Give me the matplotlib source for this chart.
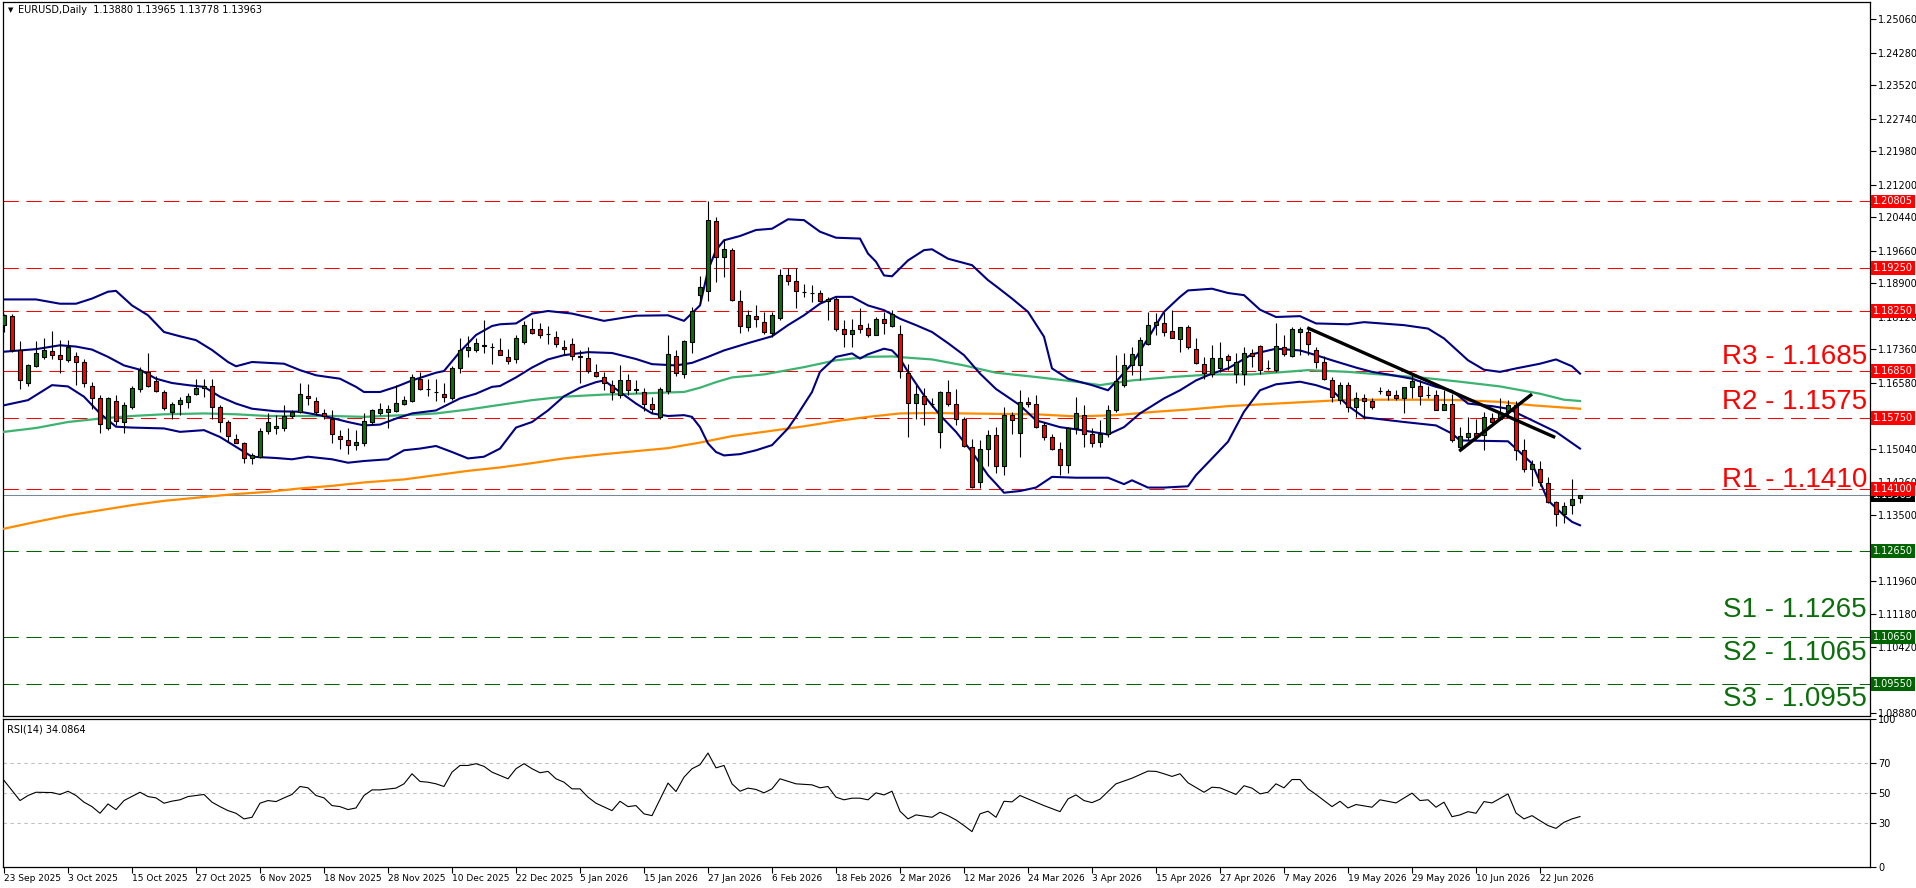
import numpy as np
import matplotlib.pyplot as plt
from matplotlib.transforms import blended_transform_factory

plt.rcParams['font.family'] = ['DejaVu Sans']
plt.rcParams['lines.scale_dashes'] = False

# ---------------- data ----------------
opens = [
    1.1792, 1.1813, 1.1735, 1.1656, 1.1697, 1.1718, 1.1731, 1.1723, 1.1710, 1.1721,
    1.1705, 1.1651, 1.1623, 1.1553, 1.1614, 1.1565, 1.1600, 1.1642, 1.1682, 1.1661,
    1.1637, 1.1590, 1.1607, 1.1613, 1.1632, 1.1645, 1.1651, 1.1600, 1.1566, 1.1527,
    1.1516, 1.1481, 1.1485, 1.1546, 1.1553, 1.1553, 1.1581, 1.1590, 1.1627, 1.1616,
    1.1587, 1.1574, 1.1534, 1.1525, 1.1513, 1.1517, 1.1567, 1.1587, 1.1590, 1.1592,
    1.1607, 1.1615, 1.1666, 1.1643, 1.1637, 1.1632, 1.1621, 1.1693, 1.1735, 1.1735,
    1.1745, 1.1741, 1.1735, 1.1718, 1.1714, 1.1753, 1.1784, 1.1784, 1.1772, 1.1765,
    1.1741, 1.1749, 1.1719, 1.1716, 1.1683, 1.1671, 1.1653, 1.1628, 1.1663, 1.1642,
    1.1637, 1.1607, 1.1578, 1.1638, 1.1721, 1.1679, 1.1753, 1.1863, 1.1872, 1.2034,
    1.1951, 1.1968, 1.1849, 1.1788, 1.1813, 1.1800, 1.1774, 1.1809, 1.1910, 1.1894,
    1.1869, 1.1868, 1.1866, 1.1849, 1.1854, 1.1784, 1.1772, 1.1792, 1.1786, 1.1770,
    1.1807, 1.1790, 1.1771, 1.1681, 1.1611, 1.1627, 1.1607, 1.1543, 1.1635, 1.1609,
    1.1572, 1.1508, 1.1425, 1.1504, 1.1535, 1.1463, 1.1582, 1.1541, 1.1613, 1.1607,
    1.1558, 1.1530, 1.1502, 1.1465, 1.1551, 1.1583, 1.1537, 1.1519, 1.1537, 1.1593,
    1.1652, 1.1698, 1.1700, 1.1749, 1.1793, 1.1798, 1.1778, 1.1760, 1.1788, 1.1737,
    1.1702, 1.1677, 1.1691, 1.1720, 1.1677, 1.1677, 1.1727, 1.1743, 1.1691, 1.1687,
    1.1741, 1.1719, 1.1775, 1.1776, 1.1735, 1.1706, 1.1663, 1.1618, 1.1653, 1.1601,
    1.1621, 1.1615, 1.1639, 1.1639, 1.1628, 1.1621, 1.1648, 1.1651, 1.1630, 1.1630,
    1.1595, 1.1609, 1.1508, 1.1531, 1.1541, 1.1535, 1.1575, 1.1574, 1.1592, 1.1605,
    1.1500, 1.1457, 1.1457, 1.1424, 1.1380, 1.1352, 1.1373, 1.13880]
highs = [
    1.1819, 1.1818, 1.1755, 1.1702, 1.1755, 1.1761, 1.1778, 1.1758, 1.1758, 1.1730,
    1.1712, 1.1660, 1.1629, 1.1625, 1.1629, 1.1612, 1.1650, 1.1695, 1.1728, 1.1673,
    1.1640, 1.1612, 1.1625, 1.1633, 1.1667, 1.1667, 1.1667, 1.1605, 1.1570, 1.1539,
    1.1520, 1.1493, 1.1551, 1.1586, 1.1582, 1.1605, 1.1595, 1.1656, 1.1654, 1.1625,
    1.1596, 1.1595, 1.1547, 1.1551, 1.1547, 1.1586, 1.1597, 1.1611, 1.1605, 1.1652,
    1.1626, 1.1677, 1.1683, 1.1667, 1.1666, 1.1656, 1.1697, 1.1761, 1.1766, 1.1763,
    1.1803, 1.1750, 1.1761, 1.1737, 1.1768, 1.1801, 1.1809, 1.1796, 1.1790, 1.1779,
    1.1758, 1.1763, 1.1733, 1.1741, 1.1702, 1.1683, 1.1663, 1.1698, 1.1677, 1.1663,
    1.1646, 1.1625, 1.1648, 1.1768, 1.1733, 1.1757, 1.1835, 1.1906, 1.2082, 1.2045,
    1.1994, 1.1973, 1.1873, 1.1828, 1.1838, 1.1823, 1.1823, 1.1924, 1.1926, 1.1926,
    1.1889, 1.1885, 1.1873, 1.1858, 1.1858, 1.1805, 1.1807, 1.1833, 1.1796, 1.1811,
    1.1823, 1.1827, 1.1792, 1.1702, 1.1652, 1.1646, 1.1621, 1.1638, 1.1665, 1.1644,
    1.1578, 1.1527, 1.1523, 1.1547, 1.1554, 1.1601, 1.1590, 1.1640, 1.1624, 1.1628,
    1.1565, 1.1539, 1.1520, 1.1554, 1.1624, 1.1605, 1.1551, 1.1570, 1.1605, 1.1722,
    1.1726, 1.1741, 1.1765, 1.1823, 1.1821, 1.1823, 1.1827, 1.1788, 1.1792, 1.1761,
    1.1718, 1.1745, 1.1753, 1.1724, 1.1726, 1.1741, 1.1737, 1.1745, 1.1710, 1.1796,
    1.1768, 1.1788, 1.1788, 1.1788, 1.1741, 1.1719, 1.1671, 1.1659, 1.1659, 1.1636,
    1.1632, 1.1621, 1.1648, 1.1644, 1.1640, 1.1648, 1.1675, 1.1663, 1.1650, 1.1640,
    1.1640, 1.1632, 1.1554, 1.1578, 1.1574, 1.1590, 1.1586, 1.1621, 1.1617, 1.1615,
    1.1527, 1.1478, 1.1474, 1.1438, 1.1382, 1.1380, 1.1434, 1.13965]
lows = [
    1.1776, 1.1730, 1.1644, 1.1649, 1.1695, 1.1714, 1.1714, 1.1681, 1.1706, 1.1652,
    1.1648, 1.1597, 1.1541, 1.1547, 1.1560, 1.1541, 1.1597, 1.1637, 1.1648, 1.1637,
    1.1595, 1.1574, 1.1582, 1.1599, 1.1629, 1.1625, 1.1574, 1.1542, 1.1520, 1.1516,
    1.1471, 1.1467, 1.1483, 1.1539, 1.1539, 1.1545, 1.1575, 1.1586, 1.1605, 1.1582,
    1.1574, 1.1516, 1.1502, 1.1491, 1.1500, 1.1510, 1.1560, 1.1582, 1.1552, 1.1590,
    1.1605, 1.1612, 1.1640, 1.1627, 1.1615, 1.1613, 1.1618, 1.1681, 1.1718, 1.1730,
    1.1726, 1.1702, 1.1722, 1.1702, 1.1704, 1.1749, 1.1772, 1.1761, 1.1749, 1.1741,
    1.1722, 1.1710, 1.1658, 1.1680, 1.1671, 1.1640, 1.1617, 1.1621, 1.1628, 1.1634,
    1.1592, 1.1586, 1.1574, 1.1632, 1.1674, 1.1669, 1.1727, 1.1841, 1.1849, 1.1893,
    1.1905, 1.1849, 1.1774, 1.1778, 1.1788, 1.1772, 1.1765, 1.1805, 1.1885, 1.1831,
    1.1858, 1.1846, 1.1846, 1.1803, 1.1779, 1.1740, 1.1741, 1.1774, 1.1765, 1.1768,
    1.1772, 1.1788, 1.1669, 1.1530, 1.1574, 1.1558, 1.1601, 1.1505, 1.1603, 1.1558,
    1.1508, 1.1411, 1.1411, 1.1463, 1.1447, 1.1442, 1.1539, 1.1484, 1.1601, 1.1551,
    1.1523, 1.1500, 1.1442, 1.1446, 1.1539, 1.1508, 1.1508, 1.1508, 1.1530, 1.1590,
    1.1648, 1.1675, 1.1663, 1.1745, 1.1768, 1.1766, 1.1761, 1.1730, 1.1737, 1.1702,
    1.1667, 1.1671, 1.1683, 1.1687, 1.1656, 1.1652, 1.1694, 1.1679, 1.1687, 1.1683,
    1.1719, 1.1718, 1.1722, 1.1722, 1.1691, 1.1663, 1.1613, 1.1609, 1.1590, 1.1578,
    1.1574, 1.1597, 1.1632, 1.1617, 1.1617, 1.1586, 1.1621, 1.1605, 1.1621, 1.1594,
    1.1594, 1.1520, 1.1504, 1.1523, 1.1527, 1.1500, 1.1562, 1.1570, 1.1578, 1.1477,
    1.1449, 1.1416, 1.1416, 1.1377, 1.1323, 1.1330, 1.1352, 1.13778]
closes = [
    1.1815, 1.1735, 1.1665, 1.1700, 1.1726, 1.1734, 1.1723, 1.1714, 1.1740, 1.1706,
    1.1656, 1.1623, 1.1562, 1.1621, 1.1568, 1.1605, 1.1646, 1.1688, 1.1651, 1.1639,
    1.1598, 1.1609, 1.1617, 1.1627, 1.1645, 1.1649, 1.1600, 1.1566, 1.1534, 1.1518,
    1.1481, 1.1490, 1.1546, 1.1565, 1.1556, 1.1581, 1.1590, 1.1632, 1.1621, 1.1590,
    1.1579, 1.1537, 1.1527, 1.1513, 1.1520, 1.1569, 1.1593, 1.1596, 1.1597, 1.1610,
    1.1618, 1.1670, 1.1644, 1.1642, 1.1636, 1.1625, 1.1693, 1.1735, 1.1741, 1.1751,
    1.1744, 1.1741, 1.1722, 1.1708, 1.1761, 1.1793, 1.1774, 1.1768, 1.1771, 1.1747,
    1.1736, 1.1719, 1.1718, 1.1685, 1.1674, 1.1658, 1.1635, 1.1665, 1.1640, 1.1641,
    1.1607, 1.1597, 1.1644, 1.1724, 1.1681, 1.1754, 1.1826, 1.1880, 1.2037, 1.1951,
    1.1969, 1.1850, 1.1789, 1.1815, 1.1807, 1.1775, 1.1815, 1.1910, 1.1894, 1.1871,
    1.1870, 1.1867, 1.1849, 1.1852, 1.1782, 1.1772, 1.1780, 1.1784, 1.1770, 1.1807,
    1.1796, 1.1819, 1.1684, 1.1611, 1.1632, 1.1607, 1.1608, 1.1635, 1.1607, 1.1572,
    1.1509, 1.1414, 1.1504, 1.1535, 1.1463, 1.1582, 1.1570, 1.1613, 1.1607, 1.1555,
    1.1530, 1.1504, 1.1465, 1.1551, 1.1588, 1.1537, 1.1516, 1.1539, 1.1593, 1.1661,
    1.1698, 1.1724, 1.1757, 1.1793, 1.1799, 1.1776, 1.1763, 1.1788, 1.1740, 1.1704,
    1.1680, 1.1716, 1.1716, 1.1710, 1.1706, 1.1727, 1.1719, 1.1687, 1.1691, 1.1743,
    1.1724, 1.1784, 1.1784, 1.1747, 1.1706, 1.1666, 1.1624, 1.1653, 1.1601, 1.1621,
    1.1615, 1.1601, 1.1639, 1.1628, 1.1623, 1.1648, 1.1661, 1.1627, 1.1628, 1.1595,
    1.1609, 1.1523, 1.1533, 1.1541, 1.1533, 1.1578, 1.1566, 1.1587, 1.1605, 1.1500,
    1.1457, 1.1469, 1.1426, 1.1380, 1.1352, 1.1369, 1.1387, 1.13963]

# Bollinger bands (20, 2) sampled at bar indices
bb_upper_idx = [0, 4, 7, 9, 11, 13, 14, 16, 18, 20, 22, 24, 26, 28, 29, 31, 35, 37, 39, 42,
                44, 45, 47, 49, 51, 54, 55, 57, 59, 61, 62, 64, 66, 68, 71, 75, 79, 83, 85, 87,
                88, 89, 90, 92, 94, 96, 98, 100, 102, 104, 107, 108, 109, 110, 111, 113, 115, 116, 118, 121,
                123, 124, 126, 128, 130, 131, 133, 136, 138, 139, 141, 143, 145, 147, 148, 151, 153, 155, 157, 159,
                162, 164, 168, 170, 175, 178, 180, 183, 185, 187, 189, 192, 194, 196, 197]
bb_upper = [1.1852, 1.1852, 1.1842, 1.1842, 1.1854, 1.1870, 1.1872, 1.1838, 1.1815, 1.1776,
            1.1766, 1.1757, 1.1734, 1.1706, 1.1696, 1.1706, 1.1702, 1.1687, 1.1675, 1.1667,
            1.1648, 1.1636, 1.1636, 1.1648, 1.1663, 1.1681, 1.1685, 1.1730, 1.1769, 1.1790,
            1.1794, 1.1796, 1.1819, 1.1825, 1.1819, 1.1802, 1.1814, 1.1815, 1.1802, 1.1838,
            1.1920, 1.1967, 1.1990, 1.2000, 1.2014, 1.2017, 1.2039, 1.2037, 1.2010, 1.1996,
            1.1994, 1.1959, 1.1940, 1.1908, 1.1906, 1.1943, 1.1967, 1.1969, 1.1947, 1.1932,
            1.1897, 1.1883, 1.1854, 1.1823, 1.1765, 1.1691, 1.1667, 1.1652, 1.1640, 1.1660,
            1.1702, 1.1761, 1.1823, 1.1858, 1.1873, 1.1877, 1.1867, 1.1862, 1.1828, 1.1811,
            1.1813, 1.1796, 1.1794, 1.1799, 1.1792, 1.1784, 1.1761, 1.1710, 1.1688, 1.1683,
            1.1691, 1.1702, 1.1712, 1.1696, 1.1679]
bb_mid_idx = [0, 4, 7, 9, 11, 13, 15, 17, 19, 21, 23, 25, 27, 29, 31, 34, 37, 40, 43, 45,
              47, 49, 51, 54, 57, 59, 61, 62, 64, 66, 68, 70, 73, 76, 79, 81, 84, 86, 88, 90,
              93, 96, 98, 100, 102, 104, 106, 108, 110, 112, 114, 116, 118, 120, 122, 124, 127, 129, 132, 134,
              136, 138, 140, 142, 145, 147, 149, 151, 153, 156, 159, 162, 164, 166, 169, 171, 173, 176, 179, 181,
              183, 186, 188, 191, 194, 197]
bb_mid = [1.1730, 1.1736, 1.1745, 1.1742, 1.1735, 1.1718, 1.1698, 1.1688, 1.1667, 1.1657,
          1.1652, 1.1648, 1.1625, 1.1609, 1.1597, 1.1591, 1.1590, 1.1580, 1.1566, 1.1558,
          1.1560, 1.1574, 1.1586, 1.1593, 1.1621, 1.1632, 1.1648, 1.1650, 1.1670, 1.1693,
          1.1712, 1.1722, 1.1729, 1.1727, 1.1713, 1.1701, 1.1698, 1.1704, 1.1718, 1.1733,
          1.1750, 1.1766, 1.1792, 1.1815, 1.1842, 1.1858, 1.1858, 1.1838, 1.1827, 1.1807,
          1.1792, 1.1776, 1.1750, 1.1722, 1.1679, 1.1643, 1.1605, 1.1570, 1.1554, 1.1549,
          1.1543, 1.1537, 1.1554, 1.1586, 1.1621, 1.1640, 1.1663, 1.1679, 1.1691, 1.1724,
          1.1737, 1.1733, 1.1722, 1.1710, 1.1693, 1.1683, 1.1677, 1.1667, 1.1648, 1.1639,
          1.1609, 1.1603, 1.1597, 1.1570, 1.1543, 1.1504]
bb_lower_idx = [0, 3, 6, 8, 10, 12, 14, 16, 20, 22, 25, 27, 29, 31, 34, 36, 38, 41, 43, 45,
                48, 50, 52, 54, 56, 58, 60, 62, 64, 66, 68, 70, 72, 74, 75, 77, 79, 81, 83, 85,
                86, 87, 88, 89, 90, 92, 94, 96, 98, 99, 101, 102, 104, 106, 107, 108, 110, 111, 112, 113,
                115, 117, 119, 121, 123, 124, 125, 127, 129, 131, 134, 138, 140, 141, 143, 145, 148, 149, 151, 153,
                155, 157, 159, 162, 164, 166, 168, 170, 175, 179, 181, 182, 188, 189, 191, 192, 193, 195, 196, 197]
bb_lower = [1.1605, 1.1617, 1.1652, 1.1649, 1.1625, 1.1586, 1.1555, 1.1553, 1.1551, 1.1543,
            1.1547, 1.1531, 1.1508, 1.1485, 1.1482, 1.1479, 1.1485, 1.1479, 1.1471, 1.1475,
            1.1479, 1.1500, 1.1504, 1.1510, 1.1496, 1.1481, 1.1485, 1.1504, 1.1553, 1.1566,
            1.1593, 1.1626, 1.1646, 1.1659, 1.1663, 1.1636, 1.1609, 1.1586, 1.1580, 1.1582,
            1.1578, 1.1554, 1.1516, 1.1496, 1.1488, 1.1491, 1.1500, 1.1512, 1.1551, 1.1578,
            1.1636, 1.1683, 1.1718, 1.1726, 1.1714, 1.1724, 1.1737, 1.1733, 1.1714, 1.1683,
            1.1628, 1.1582, 1.1543, 1.1496, 1.1442, 1.1422, 1.1401, 1.1405, 1.1413, 1.1438,
            1.1436, 1.1436, 1.1421, 1.1430, 1.1413, 1.1413, 1.1416, 1.1442, 1.1481, 1.1520,
            1.1590, 1.1640, 1.1654, 1.1660, 1.1652, 1.1640, 1.1604, 1.1577, 1.1566, 1.1558,
            1.1539, 1.1523, 1.1521, 1.1504, 1.1469, 1.1426, 1.1383, 1.1348, 1.1333, 1.1325]

# moving averages (green = shorter, orange = longer)
ma_green_idx = [0, 4, 8, 12, 16, 20, 25, 29, 33, 37, 41, 45, 50, 54, 58, 62, 66, 70, 75, 79,
                83, 85, 87, 89, 91, 95, 100, 104, 108, 111, 113, 116, 120, 124, 129, 134, 137, 141, 146, 151,
                156, 163, 168, 172, 177, 182, 187, 192, 195, 197]
ma_green = [1.1543, 1.1552, 1.1566, 1.1574, 1.1580, 1.1584, 1.1586, 1.1584, 1.1580, 1.1580,
            1.1580, 1.1578, 1.1582, 1.1586, 1.1595, 1.1606, 1.1617, 1.1625, 1.1630, 1.1632,
            1.1635, 1.1636, 1.1646, 1.1659, 1.1670, 1.1677, 1.1694, 1.1710, 1.1718, 1.1719,
            1.1716, 1.1712, 1.1698, 1.1681, 1.1671, 1.1660, 1.1652, 1.1663, 1.1671, 1.1677,
            1.1677, 1.1687, 1.1683, 1.1677, 1.1670, 1.1660, 1.1649, 1.1632, 1.1618, 1.1615]
ma_orange_idx = [0, 4, 8, 12, 16, 20, 25, 29, 33, 37, 41, 45, 50, 54, 58, 62, 66, 70, 75, 79,
                 83, 87, 91, 95, 100, 104, 108, 112, 116, 120, 124, 129, 134, 139, 144, 148, 153, 158, 163, 167,
                 172, 177, 182, 187, 191, 197]
ma_orange = [1.1317, 1.1333, 1.1348, 1.1360, 1.1372, 1.1382, 1.1391, 1.1398, 1.1403, 1.1411,
             1.1417, 1.1425, 1.1432, 1.1442, 1.1452, 1.1460, 1.1470, 1.1481, 1.1491, 1.1498,
             1.1505, 1.1518, 1.1533, 1.1543, 1.1556, 1.1568, 1.1578, 1.1586, 1.1587, 1.1586,
             1.1585, 1.1584, 1.1579, 1.1582, 1.1590, 1.1595, 1.1603, 1.1608, 1.1613, 1.1617,
             1.1618, 1.1618, 1.1617, 1.1613, 1.1605, 1.1597]

# hand-drawn trend lines: (bar index, price) end points
trend_down = [(162.9, 1.1786), (193.9, 1.1530)]
trend_up = [(181.9, 1.1498), (191.0, 1.1631)]

# RSI(14) sampled at bar indices
rsi_idx = [0, 2, 3, 4, 6, 7, 8, 9, 10, 11, 12, 13, 14, 15, 17, 18, 19, 20, 21, 22,
           23, 25, 26, 27, 28, 29, 30, 31, 32, 33, 34, 35, 36, 37, 38, 39, 40, 41, 42, 43,
           44, 45, 46, 47, 49, 50, 51, 52, 53, 54, 55, 56, 57, 58, 59, 60, 61, 63, 64, 65,
           66, 67, 68, 69, 70, 71, 72, 73, 74, 76, 77, 78, 79, 80, 81, 83, 84, 85, 86, 87,
           88, 89, 90, 91, 92, 93, 94, 95, 96, 97, 99, 101, 102, 103, 104, 105, 106, 107, 108, 109,
           110, 111, 112, 113, 114, 116, 117, 118, 119, 120, 121, 122, 123, 124, 125, 126, 127, 128, 130, 132,
           133, 134, 135, 136, 137, 139, 141, 143, 144, 145, 146, 147, 148, 150, 151, 152, 154, 155, 156, 157,
           158, 159, 160, 161, 162, 163, 164, 166, 167, 168, 169, 171, 172, 174, 176, 177, 178, 179, 180, 181,
           182, 183, 184, 185, 186, 188, 189, 190, 191, 192, 193, 194, 195, 196, 197]
rsi_val = [58.5, 44.9, 48.3, 50.5, 50.3, 49.0, 51.2, 48.3, 43.8, 40.8, 36.3, 42.6, 38.8, 44.9, 50.5, 47.6, 46.7, 43.1, 44.5, 45.4,
           47.6, 49.0, 43.8, 40.8, 38.1, 36.3, 32.5, 33.6, 43.1, 44.9, 44.2, 46.7, 49.0, 54.4, 53.5, 48.3, 46.7, 41.5, 40.8, 38.8,
           39.9, 48.3, 52.1, 52.1, 53.3, 56.2, 63.0, 57.8, 57.3, 56.2, 54.4, 64.1, 68.6, 68.6, 69.8, 68.0, 64.1, 59.6, 66.4, 69.8,
           66.4, 63.7, 64.6, 59.6, 57.3, 52.8, 52.8, 47.2, 43.1, 38.1, 44.4, 40.8, 41.5, 35.9, 34.7, 56.7, 51.0, 60.7, 66.4, 69.1,
           77.0, 67.0, 68.6, 56.2, 51.2, 53.3, 52.4, 50.1, 52.8, 59.6, 56.2, 55.5, 53.5, 54.4, 47.2, 45.4, 46.5, 46.5, 45.4, 50.1,
           48.7, 51.2, 37.7, 32.5, 35.2, 33.6, 37.0, 34.7, 31.8, 28.0, 23.9, 35.9, 37.7, 33.6, 44.4, 44.0, 48.3, 46.0, 41.5, 37.4,
           46.0, 48.7, 44.9, 43.5, 45.8, 56.2, 60.0, 64.8, 64.6, 63.0, 61.2, 63.0, 56.9, 50.5, 53.9, 53.5, 49.0, 54.9, 53.3, 49.4,
           50.5, 56.2, 53.5, 59.1, 59.1, 52.8, 49.0, 40.8, 44.4, 39.9, 42.2, 40.4, 45.4, 43.3, 49.9, 44.9, 45.4, 40.4, 43.8, 34.0,
           35.2, 37.4, 36.3, 44.2, 43.3, 49.4, 36.5, 32.5, 34.7, 31.3, 28.0, 26.1, 30.2, 32.5, 34.0864]

res_levels = [1.20805, 1.19250, 1.18250, 1.16850, 1.15750, 1.14100]
sup_levels = [1.12650, 1.10650, 1.09550]
last_price = 1.13963

res_names = ['R3 - 1.1685', 'R2 - 1.1575', 'R1 - 1.1410']
res_label_levels = [1.1685, 1.1575, 1.1410]
sup_names = ['S1 - 1.1265', 'S2 - 1.1065', 'S3 - 1.0955']
sup_label_levels = [1.1265, 1.1065, 1.0955]

# price scale labels (those fully covered by the level tags are left out)
price_ticks = [1.25060, 1.24280, 1.23520, 1.22740, 1.21980, 1.21200, 1.20440, 1.19660, 1.18900, 1.18120,
               1.17360, 1.16580, 1.15040, 1.14260, 1.13500, 1.11960, 1.11180, 1.10420, 1.08880]
date_labels = ['23 Sep 2025', '3 Oct 2025', '15 Oct 2025', '27 Oct 2025', '6 Nov 2025', '18 Nov 2025',
               '28 Nov 2025', '10 Dec 2025', '22 Dec 2025', '5 Jan 2026', '15 Jan 2026', '27 Jan 2026',
               '6 Feb 2026', '18 Feb 2026', '2 Mar 2026', '12 Mar 2026', '24 Mar 2026', '3 Apr 2026',
               '15 Apr 2026', '27 Apr 2026', '7 May 2026', '19 May 2026', '29 May 2026', '10 Jun 2026',
               '22 Jun 2026']

# ---------------- figure ----------------
W, H = 1916, 888
fig = plt.figure(figsize=(W / 100, H / 100), dpi=100)
ax = fig.add_axes([3 / W, (H - 716) / H, (1870 - 3) / W, (716 - 2) / H])
axr = fig.add_axes([3 / W, (H - 867) / H, (1870 - 3) / W, (867 - 719) / H])

for a in (ax, axr):
    for sp in a.spines.values():
        sp.set_linewidth(0.9)
        sp.set_color('black')
    a.set_xlim(-0.125, 233.25)

ax.set_ylim(1.0880, 1.2546)
axr.set_ylim(0, 100)

# candles
o, h, l, c = (np.array(v) for v in (opens, highs, lows, closes))
x = np.arange(len(o))
bull = c >= o
ax.vlines(x, l, h, color='black', lw=0.8, zorder=4)
body_lo = np.minimum(o, c)
body_h = np.abs(c - o)
ax.bar(x[bull], body_h[bull], bottom=body_lo[bull], width=0.62, color='#0b700b',
       edgecolor='black', linewidth=0.8, zorder=5)
ax.bar(x[~bull], body_h[~bull], bottom=body_lo[~bull], width=0.62, color='#ff0000',
       edgecolor='black', linewidth=0.8, zorder=5)

# indicators
ax.plot(ma_orange_idx, ma_orange, color='#ff8c00', lw=1.6, zorder=3)
ax.plot(ma_green_idx, ma_green, color='#3cb371', lw=1.6, zorder=3)
for ix, vals in ((bb_upper_idx, bb_upper), (bb_mid_idx, bb_mid), (bb_lower_idx, bb_lower)):
    ax.plot(ix, vals, color='#000080', lw=1.5, zorder=3)
for seg in (trend_down, trend_up):
    ax.plot([p[0] for p in seg], [p[1] for p in seg], color='black', lw=2.4,
            solid_capstyle='butt', zorder=6)

# levels
dash = (0, (11, 5.5))
for lv in res_levels:
    ax.axhline(lv, color='#ff0000', lw=0.75, ls=dash, zorder=2)
for lv in sup_levels:
    ax.axhline(lv, color='#006400', lw=0.75, ls=dash, zorder=2)
ax.axhline(last_price, color='#778899', lw=0.75, zorder=2)

# right price axis
ax.yaxis.tick_right()
ax.set_yticks(price_ticks)
ax.set_yticklabels([f'{t:.5f}' for t in price_ticks])
ax.tick_params(axis='y', direction='out', length=4, width=0.8, pad=2, labelsize=7)
ax.set_xticks([])

trans = blended_transform_factory(ax.transAxes, ax.transData)
tag_x = (1873 - 3) / (1870 - 3)
# last price tag sits under the R1 tag, as on the chart
ax.text(tag_x, last_price, f'{last_price:.5f}', transform=trans, ha='left', va='center',
        fontsize=7, color='white', clip_on=False, zorder=9,
        bbox=dict(boxstyle='square,pad=0.2', fc='black', ec='none'))
for lv in res_levels:
    ax.text(tag_x, lv, f'{lv:.5f}', transform=trans, ha='left', va='center', fontsize=7,
            color='white', clip_on=False, zorder=10,
            bbox=dict(boxstyle='square,pad=0.2', fc='#ff0000', ec='none'))
for lv in sup_levels:
    ax.text(tag_x, lv, f'{lv:.5f}', transform=trans, ha='left', va='center', fontsize=7,
            color='white', clip_on=False, zorder=10,
            bbox=dict(boxstyle='square,pad=0.2', fc='#006400', ec='none'))

# big level captions
for name, lv, off in zip(res_names, res_label_levels, [7, 9, 2]):
    ax.annotate(name, xy=(1.0, lv), xycoords=trans, xytext=(-3, off), textcoords='offset pixels',
                ha='right', va='baseline', fontsize=20, color='#ff0000',
                family='Liberation Sans', zorder=7)
for name, lv, off in zip(sup_names, sup_label_levels, [-66, -23, -22]):
    ax.annotate(name, xy=(1.0, lv), xycoords=trans, xytext=(-3, off), textcoords='offset pixels',
                ha='right', va='baseline', fontsize=20, color='#0a6e0a',
                family='Liberation Sans', zorder=7)

# header
fig.text(8 / W, 1 - 10 / H, '\u25bc', fontsize=5, va='center', ha='left')
fig.text(18 / W, 1 - 10 / H, 'EURUSD,Daily  1.13880 1.13965 1.13778 1.13963',
         fontsize=7, va='center', ha='left')

# RSI panel
for lv in (70, 50, 30):
    axr.axhline(lv, color='#c0c0c0', lw=0.75, ls=(0, (2.5, 2.5)), zorder=1)
axr.plot(rsi_idx, rsi_val, color='black', lw=0.8, zorder=3)
axr.text(0.002, 0.96, 'RSI(14) 34.0864', transform=axr.transAxes, va='top', ha='left', fontsize=7)
axr.yaxis.tick_right()
axr.set_yticks([0, 30, 50, 70, 100])
axr.tick_params(axis='y', direction='out', length=4, width=0.8, pad=2, labelsize=7)

axr.set_xticks([i * 8 for i in range(len(date_labels))])
axr.set_xticklabels(date_labels)
axr.tick_params(axis='x', direction='out', length=4, width=0.8, pad=1, labelsize=6.5)
for lbl in axr.get_xticklabels():
    lbl.set_ha('left')

fig.savefig('out.png', dpi=100)
